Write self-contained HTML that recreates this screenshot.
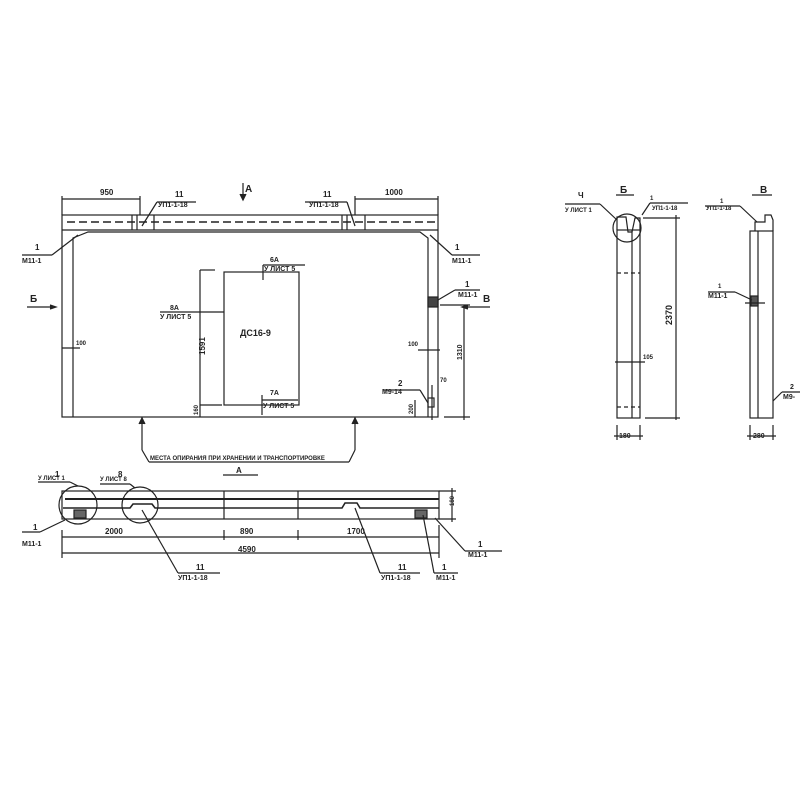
<!DOCTYPE html>
<html><head><meta charset="utf-8"><style>
html,body{margin:0;padding:0;background:#fff}
svg{display:block}
text{font-family:"Liberation Sans",sans-serif;fill:#222;font-weight:bold}
</style></head><body>
<svg width="800" height="800" viewBox="0 0 800 800" xmlns="http://www.w3.org/2000/svg">
<g stroke="#222" fill="none" stroke-width="1.2">
<rect x="62" y="215" width="376" height="202"/>
<line x1="62" y1="230" x2="438" y2="230"/>
<path d="M73 417 V238 L88 232 H420 L428 238 V417"/>
<line x1="67" y1="222" x2="436" y2="222" stroke-dasharray="8,4" stroke-width="1.6"/>
<line x1="132" y1="215" x2="132" y2="230"/><line x1="137" y1="215" x2="137" y2="230"/><line x1="154" y1="215" x2="154" y2="230"/>
<line x1="342" y1="215" x2="342" y2="230"/><line x1="347" y1="215" x2="347" y2="230"/><line x1="365" y1="215" x2="365" y2="230"/>
<line x1="62" y1="199" x2="140" y2="199"/><line x1="62" y1="196" x2="62" y2="215"/><line x1="140" y1="196" x2="140" y2="215"/>
<line x1="355" y1="199" x2="438" y2="199"/><line x1="438" y1="196" x2="438" y2="215"/><line x1="355" y1="196" x2="355" y2="215"/>
<path d="M157 202 L142 226"/><line x1="157" y1="202" x2="196" y2="202"/>
<path d="M347 202 L355 226"/><line x1="305" y1="202" x2="347" y2="202"/>
<line x1="243" y1="183" x2="243" y2="200"/><path d="M240 194 L243 200 L246 194" fill="#222"/>
<line x1="22" y1="255" x2="52" y2="255"/><line x1="52" y1="255" x2="78" y2="235"/>
<line x1="430" y1="235" x2="452" y2="255"/><line x1="452" y1="255" x2="480" y2="255"/>
<rect x="428" y="297" width="10" height="10" fill="#444"/>
<line x1="438" y1="300" x2="455" y2="290"/><line x1="455" y1="290" x2="480" y2="290"/>
<line x1="27" y1="307" x2="55" y2="307"/><path d="M50 305 L56 307 L50 309" fill="#222"/>
<line x1="462" y1="307" x2="490" y2="307"/><path d="M468 305 L462 307 L468 309" fill="#222"/>
<rect x="224" y="272" width="75" height="133"/>
<line x1="200" y1="270" x2="215" y2="270"/><line x1="200" y1="405" x2="222" y2="405"/>
<line x1="200" y1="270" x2="200" y2="417"/>
<line x1="263" y1="265" x2="263" y2="280"/><line x1="263" y1="265" x2="305" y2="265"/>
<line x1="262" y1="395" x2="262" y2="415"/><line x1="262" y1="400" x2="298" y2="400"/>
<line x1="160" y1="312" x2="224" y2="312"/>
<line x1="62" y1="348" x2="80" y2="348"/>
<line x1="464" y1="305" x2="464" y2="420"/><line x1="440" y1="305" x2="470" y2="305"/><line x1="444" y1="417" x2="470" y2="417"/>
<line x1="418" y1="350" x2="440" y2="350"/>
<line x1="384" y1="390" x2="420" y2="390"/><line x1="420" y1="390" x2="428" y2="403"/>
<rect x="428" y="398" width="6" height="9"/><line x1="432" y1="385" x2="432" y2="420"/>
<line x1="415" y1="400" x2="415" y2="417"/>
<line x1="142" y1="417" x2="142" y2="450"/><path d="M139 424 L142 418 L145 424" fill="#222"/>
<line x1="355" y1="417" x2="355" y2="450"/><path d="M352 424 L355 418 L358 424" fill="#222"/>
<line x1="142" y1="450" x2="149" y2="462"/><line x1="355" y1="450" x2="349" y2="462"/>
<line x1="149" y1="462" x2="349" y2="462"/>
<line x1="223" y1="475" x2="258" y2="475"/>
<rect x="62" y="491" width="377" height="28"/>
<line x1="65" y1="499" x2="439" y2="499" stroke-width="2"/>
<path d="M63 508 H130 L133 504 H152 L155 508 H342 L345 503 H357 L360 508 H439" stroke-width="1.6"/>
<line x1="224" y1="491" x2="224" y2="519"/><line x1="298" y1="491" x2="298" y2="519"/>
<rect x="74" y="510" width="12" height="8" fill="#666"/><rect x="415" y="510" width="12" height="8" fill="#666"/>
<circle cx="78" cy="505" r="19"/><circle cx="140" cy="505" r="18"/>
<line x1="38" y1="482" x2="70" y2="482"/><line x1="70" y1="482" x2="78" y2="486"/>
<line x1="100" y1="484" x2="130" y2="484"/><line x1="130" y1="484" x2="135" y2="488"/>
<line x1="22" y1="532" x2="40" y2="532"/><line x1="40" y1="532" x2="65" y2="520"/>
<line x1="62" y1="537" x2="439" y2="537"/><line x1="62" y1="553" x2="439" y2="553"/>
<line x1="62" y1="530" x2="62" y2="558"/><line x1="439" y1="525" x2="439" y2="558"/>
<line x1="224" y1="530" x2="224" y2="540"/><line x1="298" y1="530" x2="298" y2="540"/>
<line x1="142" y1="510" x2="178" y2="573"/><line x1="178" y1="573" x2="220" y2="573"/>
<line x1="355" y1="508" x2="380" y2="573"/><line x1="380" y1="573" x2="420" y2="573"/>
<line x1="423" y1="515" x2="434" y2="573"/><line x1="434" y1="573" x2="458" y2="573"/>
<line x1="435" y1="518" x2="465" y2="551"/><line x1="465" y1="551" x2="502" y2="551"/>
<line x1="439" y1="491" x2="456" y2="491"/><line x1="439" y1="519" x2="456" y2="519"/><line x1="452" y1="488" x2="452" y2="522"/>
<rect x="617" y="230" width="23" height="188"/>
<path d="M617 230 V217 H626 L628 232 H632 L635 218 H640 V230"/>
<line x1="632" y1="230" x2="632" y2="418"/>
<line x1="617" y1="273" x2="640" y2="273" stroke-dasharray="4,3"/>
<line x1="617" y1="407" x2="640" y2="407" stroke-dasharray="4,3"/>
<circle cx="627" cy="228" r="14"/>
<line x1="565" y1="204" x2="600" y2="204"/><line x1="600" y1="204" x2="617" y2="220"/>
<line x1="650" y1="203" x2="688" y2="203"/><line x1="650" y1="203" x2="642" y2="215"/>
<line x1="643" y1="218" x2="680" y2="218"/><line x1="645" y1="418" x2="680" y2="418"/><line x1="676" y1="215" x2="676" y2="420"/>
<line x1="617" y1="425" x2="617" y2="440"/><line x1="640" y1="425" x2="640" y2="440"/><line x1="614" y1="436" x2="643" y2="436"/>
<line x1="615" y1="362" x2="645" y2="362"/>
<line x1="616" y1="195" x2="634" y2="195"/>
<rect x="750" y="231" width="23" height="187"/>
<path d="M755 231 V222 H765 V215 H771 L773 220 V231"/>
<line x1="758" y1="231" x2="758" y2="418"/>
<rect x="751" y="296" width="7" height="10" fill="#555"/>
<line x1="705" y1="206" x2="740" y2="206"/><line x1="740" y1="206" x2="757" y2="222"/>
<line x1="708" y1="292" x2="735" y2="292"/><line x1="735" y1="292" x2="752" y2="300"/>
<line x1="745" y1="303" x2="765" y2="303"/>
<line x1="782" y1="392" x2="800" y2="392"/><line x1="782" y1="392" x2="773" y2="401"/>
<line x1="750" y1="425" x2="750" y2="440"/><line x1="773" y1="425" x2="773" y2="440"/><line x1="747" y1="436" x2="776" y2="436"/>
<line x1="752" y1="195" x2="772" y2="195"/>
</g>
<g font-size="8">
<text x="100" y="195">950</text><text x="385" y="195">1000</text>
<text x="175" y="197">11</text><text x="158" y="207" font-size="7">УП1-1-18</text>
<text x="323" y="197">11</text><text x="309" y="207" font-size="7">УП1-1-18</text>
<text x="245" y="192" font-size="10">А</text>
<text x="35" y="250">1</text><text x="22" y="263" font-size="7">М11-1</text>
<text x="455" y="250">1</text><text x="452" y="263" font-size="7">М11-1</text>
<text x="465" y="287">1</text><text x="458" y="297" font-size="7">М11-1</text>
<text x="30" y="302" font-size="10">Б</text><text x="483" y="302" font-size="10">В</text>
<text x="270" y="262" font-size="7">6А</text><text x="264" y="271" font-size="7">У ЛИСТ 5</text>
<text x="170" y="310" font-size="7">8А</text><text x="160" y="319" font-size="7">У ЛИСТ 5</text>
<text x="240" y="336" font-size="9">ДС16-9</text>
<text x="270" y="395" font-size="7">7А</text><text x="263" y="408" font-size="7">У ЛИСТ 5</text>
<text x="76" y="345" font-size="6">100</text>
<text x="408" y="346" font-size="6">100</text>
<text x="440" y="382" font-size="6">70</text>
<text x="398" y="386">2</text><text x="382" y="394" font-size="7">М9-14</text>
<text x="150" y="460" font-size="6">МЕСТА ОПИРАНИЯ ПРИ ХРАНЕНИИ И ТРАНСПОРТИРОВКЕ</text>
<text x="236" y="473">А</text>
<text transform="translate(205 355) rotate(-90)" font-size="8">1591</text>
<text transform="translate(198 415) rotate(-90)" font-size="6">160</text>
<text transform="translate(462 360) rotate(-90)" font-size="7">1310</text>
<text transform="translate(413 414) rotate(-90)" font-size="6">200</text>
<text x="55" y="477">1</text><text x="38" y="480" font-size="6">У ЛИСТ 1</text>
<text x="118" y="477">8</text><text x="100" y="481" font-size="6">У ЛИСТ 8</text>
<text x="33" y="530">1</text><text x="22" y="546" font-size="7">М11-1</text>
<text x="105" y="534">2000</text><text x="240" y="534">890</text><text x="347" y="534">1700</text>
<text x="238" y="552">4590</text>
<text x="196" y="570">11</text><text x="178" y="580" font-size="7">УП1-1-18</text>
<text x="398" y="570">11</text><text x="381" y="580" font-size="7">УП1-1-18</text>
<text x="442" y="570">1</text><text x="436" y="580" font-size="7">М11-1</text>
<text x="478" y="547">1</text><text x="468" y="557" font-size="7">М11-1</text>
<text transform="translate(454 506) rotate(-90)" font-size="6">180</text>
<text x="578" y="198">Ч</text><text x="565" y="212" font-size="6">У ЛИСТ 1</text>
<text x="620" y="193" font-size="10">Б</text>
<text x="650" y="200" font-size="6">1</text><text x="652" y="210" font-size="6">УП1-1-18</text>
<text transform="translate(672 325) rotate(-90)" font-size="9">2370</text>
<text x="643" y="359" font-size="6">105</text>
<text x="619" y="438" font-size="7">180</text>
<text x="760" y="193" font-size="10">В</text>
<text x="720" y="203" font-size="6">1</text><text x="706" y="210" font-size="6">УП1-1-18</text>
<text x="718" y="288" font-size="6">1</text><text x="708" y="298" font-size="7">М11-1</text>
<text x="790" y="389" font-size="7">2</text><text x="783" y="399" font-size="7">М9-</text>
<text x="753" y="438" font-size="7">280</text>
</g>
</svg>
</body></html>
